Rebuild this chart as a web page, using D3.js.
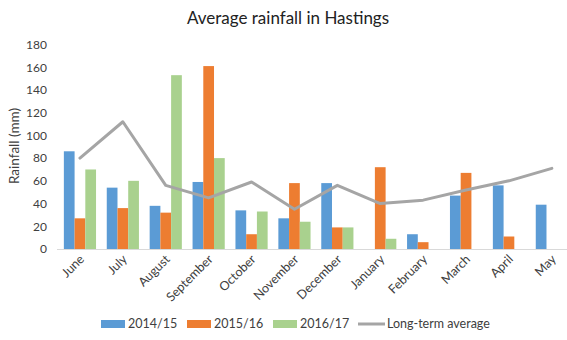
<!DOCTYPE html>
<html>
<head>
<meta charset="utf-8">
<script src="https://cdn.jsdelivr.net/npm/d3@7"></script>
<style>
  body { margin: 0; background: #fff; }
  svg { display: block; font-family: Lato, "Liberation Sans", sans-serif; }
</style>
</head>
<body>
<svg id="chart" width="567" height="340"></svg>
<script>
var months = ["June", "July", "August", "September", "October", "November",
  "December", "January", "February", "March", "April", "May"];
var series = ["2014/15", "2015/16", "2016/17"];
var rain1415 = [86, 54, 38, 59, 34, 27, 58, null, 13, 47, 56, 39];
var rain1516 = [27, 36, 32, 161, 13, 58, 19, 72, 6, 67, 11, null];
var rain1617 = [70, 60, 153, 80, 33, 24, 19, 9, null, null, null, null];
var longTerm = [80, 112, 56, 45, 59, 35, 56, 40, 43, 52, 60, 71];
var yTicks = [0, 20, 40, 60, 80, 100, 120, 140, 160, 180];
var colors = ["#5B9BD5", "#ED7D31", "#A9D18E"];
var lineColor = "#A5A5A5";

var svg = d3.select("#chart");

// plot runs a little past the right edge, same as the original export
var x = d3.scaleBand().domain(months).range([58.5, 573.3]).padding(0);
var xs = d3.scaleBand().domain(series).range([0, x.bandwidth()]).paddingInner(0).paddingOuter(0.5);
var y = d3.scaleLinear().domain([0, 180]).range([249, 44.5]);

var table = months.map(function(m, i){
  return { month: m, values: [rain1415[i], rain1516[i], rain1617[i]] };
});

// title
svg.append("text")
  .attr("x", 288).attr("y", 24)
  .attr("text-anchor", "middle")
  .attr("font-size", 17)
  .attr("fill", "#222")
  .text("Average rainfall in Hastings");

// y axis labels (no axis line, no gridlines)
var yAxis = d3.axisLeft(y).tickValues(yTicks).tickSize(0).tickPadding(0);
var gy = svg.append("g").attr("transform", "translate(47,0)").call(yAxis);
gy.select(".domain").remove();
gy.selectAll("text").attr("font-size", 12).attr("fill", "#404040")
  .attr("font-family", "Lato, 'Liberation Sans', sans-serif");

svg.append("text")
  .attr("transform", "translate(19,146) rotate(-90)")
  .attr("text-anchor", "middle")
  .attr("font-size", 13.5)
  .attr("fill", "#404040")
  .text("Rainfall (mm)");

// bars
var groups = svg.append("g").selectAll("g")
  .data(table).join("g")
  .attr("transform", function(d){ return "translate(" + x(d.month) + ",0)"; });

groups.selectAll("rect")
  .data(function(d){
    return d.values.map(function(v, j){ return { key: series[j], v: v, j: j }; })
      .filter(function(e){ return e.v != null; });
  })
  .join("rect")
  .attr("x", function(e){ return xs(e.key); })
  .attr("width", xs.bandwidth())
  .attr("y", function(e){ return y(e.v); })
  .attr("height", function(e){ return y(0) - y(e.v); })
  .attr("fill", function(e){ return colors[e.j]; });

// x axis
var xAxis = d3.axisBottom(x).tickSize(0).tickPadding(0);
var gx = svg.append("g").attr("transform", "translate(0," + y(0) + ")").call(xAxis);
gx.select(".domain").attr("stroke", "#D9D9D9").attr("d", "M57,0.5H567");
gx.selectAll("text")
  .attr("font-size", 12.5).attr("fill", "#404040")
  .attr("font-family", "Lato, 'Liberation Sans', sans-serif")
  .attr("text-anchor", "end")
  .attr("dy", null).attr("y", 0)
  .attr("transform", "translate(5,11) rotate(-45)");

// long-term average line
var line = d3.line()
  .x(function(d, i){ return x(months[i]) + x.bandwidth() / 2; })
  .y(function(d){ return y(d); });

svg.append("path")
  .datum(longTerm)
  .attr("d", line)
  .attr("fill", "none")
  .attr("stroke", lineColor)
  .attr("stroke-width", 3)
  .attr("stroke-linejoin", "round")
  .attr("stroke-linecap", "round");

// legend
var legendY = 324;
var legendItems = [
  { label: "2014/15", x: 101, color: colors[0], kind: "bar" },
  { label: "2015/16", x: 187, color: colors[1], kind: "bar" },
  { label: "2016/17", x: 273, color: colors[2], kind: "bar" },
  { label: "Long-term average", x: 358, color: lineColor, kind: "line" }
];
var lg = svg.append("g").selectAll("g").data(legendItems).join("g")
  .attr("transform", function(d){ return "translate(" + d.x + "," + legendY + ")"; });
lg.filter(function(d){ return d.kind == "bar"; }).append("rect")
  .attr("x", 0).attr("y", -4).attr("width", 24).attr("height", 8)
  .attr("fill", function(d){ return d.color; });
lg.filter(function(d){ return d.kind == "line"; }).append("line")
  .attr("x1", 0).attr("x2", 27).attr("y1", 0).attr("y2", 0)
  .attr("stroke", function(d){ return d.color; }).attr("stroke-width", 3);
lg.append("text")
  .attr("x", function(d){ return d.kind == "line" ? 29 : 27; })
  .attr("y", 4)
  .attr("font-size", 12.5)
  .attr("fill", "#404040")
  .text(function(d){ return d.label; });
</script>
</body>
</html>
